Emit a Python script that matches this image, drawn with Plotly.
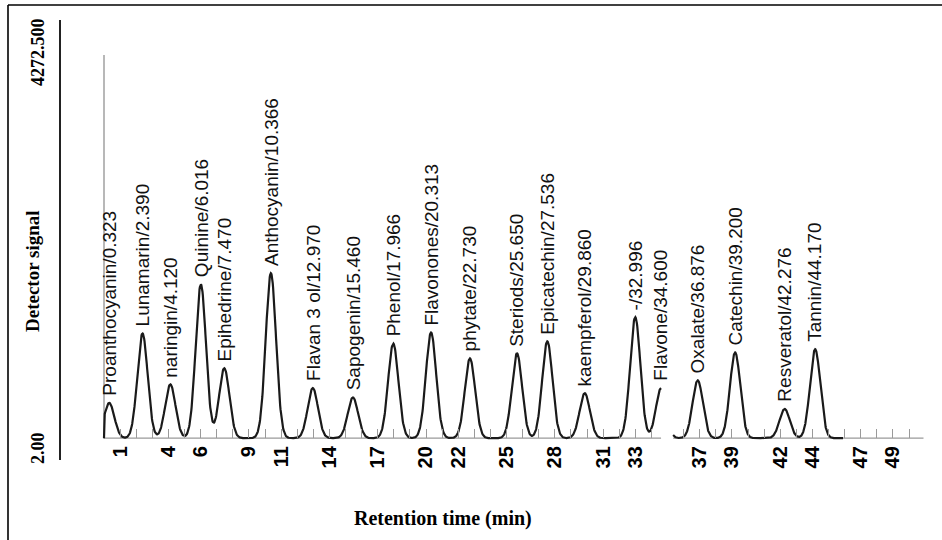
import numpy as np
import plotly.graph_objects as go

# ---- Peak table -------------------------------------------------------------
compounds = ["Proanthocyanin", "Lunamarin", "naringin", "Quinine", "Epihedrine",
             "Anthocyanin", "Flavan 3 ol", "Sapogenin", "Phenol", "Flavonones",
             "phytate", "Steriods", "Epicatechin", "kaempferol", "-",
             "Flavone", "Oxalate", "Catechin", "Resveratol", "Tannin"]
retention_min = [0.323, 2.390, 4.120, 6.016, 7.470, 10.366, 12.970, 15.460, 17.966, 20.313,
                 22.730, 25.650, 27.536, 29.860, 32.996, 34.600, 36.876, 39.200, 42.276, 44.170]
peak_height = [380, 1130, 580, 1660, 755, 1780, 540, 440, 1020, 1140,
               860, 915, 1045, 485, 1305, 540, 625, 925, 315, 960]

# detector baseline and peak width (min)
signal_baseline = 140.0
peak_sigma = 0.32

# two acquisition windows (min): first ends at the Flavone apex
run_windows = [(0.0, 34.600), (35.35, 45.9)]
axis_end = 50.9

# axis labels
x_tick_labels = [1, 4, 6, 9, 11, 14, 17, 20, 22, 25, 28, 31, 33, 37, 39, 42, 44, 47, 49]
x_minor_ticks = [v for v in range(2, 51) if not (34 < v < 36)]
y_tick_values = [2.0, 4272.5]
y_tick_text = ["2.00", "4272.500"]

# ---- Geometry ---------------------------------------------------------------
W, H = 942, 540
ML, MR, MT, MB = 61, 7, 20, 80
PW, PH = W - ML - MR, H - MT - MB

px_per_min = 16.1
t0_px = 104
x_range = [(ML - t0_px) / px_per_min, (W - MR - t0_px) / px_per_min]

# y scale: 2.00 at pixel 451, 4272.5 at pixel 55
k = (451 - 55) / (y_tick_values[1] - y_tick_values[0])
y_min = y_tick_values[0] - ((H - MB) - 451) / k
y_max = y_tick_values[1] + (55 - MT) / k


def px2paper(px, py):
    return (px - ML) / PW, ((H - MB) - py) / PH


def signal(t):
    s = np.full_like(t, signal_baseline, dtype=float)
    for rt, h in zip(retention_min, peak_height):
        s += h * np.exp(-0.5 * ((t - rt) / peak_sigma) ** 2)
    return s


fig = go.Figure()

for i, (a, b) in enumerate(run_windows):
    t = np.linspace(a, b, 1500)
    y = signal(t)
    if i == 0:
        t = np.concatenate([[a], t])
        y = np.concatenate([[signal_baseline], y])
    fig.add_trace(go.Scatter(x=t, y=y, mode="lines",
                             line=dict(color="#1a1a1a", width=2.2),
                             hoverinfo="skip", showlegend=False))

shapes = []
# chromatogram baseline (grey) and its y axis at t = 0
shapes.append(dict(type="line", xref="x", yref="y", layer="below",
                   x0=run_windows[0][0], x1=run_windows[0][1],
                   y0=signal_baseline, y1=signal_baseline,
                   line=dict(color="#9a9a9a", width=1.3)))
shapes.append(dict(type="line", xref="x", yref="y", layer="below",
                   x0=run_windows[1][0], x1=axis_end,
                   y0=signal_baseline, y1=signal_baseline,
                   line=dict(color="#9a9a9a", width=1.3)))
shapes.append(dict(type="line", xref="x", yref="y", layer="below",
                   x0=run_windows[0][0], x1=run_windows[0][0],
                   y0=signal_baseline, y1=y_tick_values[1],
                   line=dict(color="#a0a0a0", width=1.5)))
# outer frame (top and left edges)
x_a, y_a = px2paper(8, 5)
x_b, _ = px2paper(W + 2, 5)
_, y_c = px2paper(8, H + 2)
shapes.append(dict(type="line", xref="paper", yref="paper", x0=x_a, x1=x_b, y0=y_a, y1=y_a,
                   line=dict(color="black", width=1.6)))
shapes.append(dict(type="line", xref="paper", yref="paper", x0=x_a, x1=x_a, y0=y_a, y1=y_c,
                   line=dict(color="black", width=1.6)))

annotations = []
for name, rt in zip(compounds, retention_min):
    apex = float(signal(np.array([rt]))[0])
    annotations.append(dict(x=rt, y=apex, xref="x", yref="y",
                            text=f"{name}/{rt:.3f}", textangle=-90, showarrow=False,
                            xanchor="center", yanchor="bottom", yshift=5,
                            font=dict(family="Liberation Sans", size=19, color="#111111")))

tx, ty = px2paper(32, 271)
annotations.append(dict(x=tx, y=ty, xref="paper", yref="paper", text="Detector signal",
                        textangle=-90, showarrow=False, xanchor="center", yanchor="middle",
                        font=dict(family="Liberation Serif", size=19, color="black", weight="bold")))
tx, ty = px2paper(443, 518)
annotations.append(dict(x=tx, y=ty, xref="paper", yref="paper", text="Retention time (min)",
                        showarrow=False, xanchor="center", yanchor="middle",
                        font=dict(family="Liberation Serif", size=20, color="black", weight="bold")))

fig.update_layout(
    width=W, height=H,
    margin=dict(l=ML, r=MR, t=MT, b=MB),
    paper_bgcolor="white", plot_bgcolor="white",
    shapes=shapes, annotations=annotations,
    xaxis=dict(range=x_range, anchor="free",
               position=(signal_baseline - y_min) / (y_max - y_min),
               showline=False, showgrid=False, zeroline=False,
               tickmode="array", tickvals=x_tick_labels,
               ticktext=[str(v) for v in x_tick_labels],
               tickangle=-90, ticks="inside", ticklen=9, tickwidth=1.2, tickcolor="#9a9a9a",
               ticklabelstandoff=3,
               tickfont=dict(family="Liberation Sans", size=20, color="black", weight="bold"),
               minor=dict(tickmode="array", tickvals=x_minor_ticks, ticks="inside",
                          ticklen=9, tickwidth=1.2, tickcolor="#9a9a9a", showgrid=False)),
    yaxis=dict(range=[y_min, y_max], showline=True, linecolor="#222222", linewidth=1.5,
               showgrid=False, zeroline=False, tickmode="array", tickvals=y_tick_values,
               ticktext=y_tick_text, tickangle=-90, ticks="", ticklabelstandoff=8,
               tickfont=dict(family="Liberation Serif", size=18, color="black", weight="bold")),
)

fig.write_html("out.html")
